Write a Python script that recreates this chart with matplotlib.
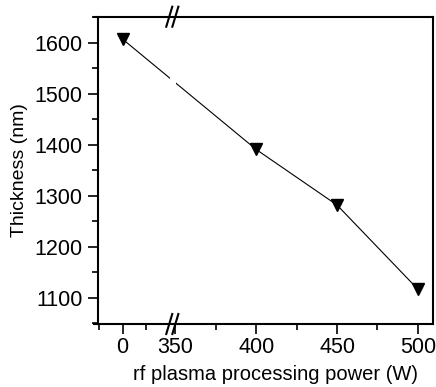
import numpy as np
import matplotlib
matplotlib.use('Agg')
import matplotlib.pyplot as plt

# data
power = [0, 400, 450, 500]
thickness = [1607, 1391, 1282, 1117]

x_major = [0, 350, 400, 450, 500]
x_minor = [-25, 25, 375, 425, 475]
y_major = [1100, 1200, 1300, 1400, 1500, 1600]
y_minor = [1050, 1150, 1250, 1350, 1450, 1550, 1650]

plt.rcParams['font.family'] = ['Liberation Sans', 'DejaVu Sans']
plt.rcParams['font.size'] = 15

# broken x axis: the 0 W point sits on a compressed segment left of 350
X0 = 317.5   # where 0 lands on the right-hand scale
K = 0.582    # compression of the left segment
SPLIT = 200.0
U_SPLIT = 346.0


def fwd(x):
    x = np.asarray(x, dtype=float)
    return np.where(x < SPLIT, X0 + K * x, x)


def inv(u):
    u = np.asarray(u, dtype=float)
    return np.where(u < U_SPLIT, (u - X0) / K, u)


fig = plt.figure(figsize=(4.36, 3.87), dpi=100)
ax = fig.add_axes([94 / 436, 1 - 324 / 387, 339 / 436, 307.3 / 387])

ax.set_xscale('function', functions=(fwd, inv))
ax.set_xlim(-30.4, 509.3)
ax.set_ylim(1049, 1651)

ax.plot(power, thickness, '-', color='black', lw=0.8, zorder=2)
ax.plot(power, thickness, 'v', color='black', ms=9, zorder=3)

# small gap in the line where the axis is broken
ax.axvspan(347, 350.5, color='white', lw=0, zorder=2.2)

ax.set_xticks(x_major)
ax.set_xticklabels([str(v) for v in x_major])
ax.set_xticks(x_minor, minor=True)
ax.set_yticks(y_major)
ax.set_yticks(y_minor, minor=True)

ax.spines['left'].set_position(('axes', 4.3 / 339))
for s in ax.spines.values():
    s.set_linewidth(1.5)

ax.tick_params(axis='both', which='major', direction='out', length=7.2, width=1.2,
               labelsize=15.5)
ax.tick_params(axis='both', which='minor', direction='out', length=4.3, width=1.2)
ax.tick_params(axis='x', which='major', pad=2)
ax.tick_params(axis='y', which='major', pad=4)
ax.tick_params(top=False, right=False, which='both')

ax.set_xlabel('rf plasma processing power (W)', fontsize=14.5)
ax.set_ylabel('Thickness (nm)', fontsize=14, labelpad=5)
ax.xaxis.set_label_coords(0.534, -0.135)

# break marks on top and bottom spines
dx = 3 / 339
dy = 10 / 307.3
for xc in [0.222, 0.240]:
    for yc in [0, 1]:
        ax.plot([xc - dx, xc + dx], [yc - dy, yc + dy], color='black', lw=1.5,
                transform=ax.transAxes, clip_on=False, zorder=4)

fig.savefig('out.png', dpi=100)
